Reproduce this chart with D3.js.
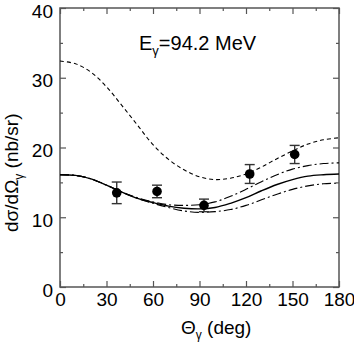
<!DOCTYPE html>
<html>
<head>
<meta charset="utf-8">
<title>Cross section</title>
<style>
  body { margin: 0; background: #fff; }
  text { font-family: "Liberation Sans", Arial, sans-serif; }
</style>
<script src="https://d3js.org/d3.v7.min.js"></script>
</head>
<body>
<script>
// theory curves, sampled every 10 deg
var angles = [0, 10, 20, 30, 40, 50, 60, 70, 80, 90, 100, 110, 120, 130, 140, 150, 160, 170, 180];
var dashedVals = [32.4, 32.0, 30.8, 28.7, 26.0, 23.2, 20.4, 18.3, 16.8, 15.8, 15.4, 15.6, 16.2, 17.2, 18.4, 19.5, 20.5, 21.1, 21.4];
var solidVals  = [16.1, 16.0, 15.5, 14.6, 13.6, 12.7, 12.1, 11.6, 11.3, 11.2, 11.4, 12.0, 12.8, 13.8, 14.7, 15.4, 15.9, 16.1, 16.2];
var upperVals  = [16.1, 16.0, 15.5, 14.6, 13.6, 12.8, 12.2, 11.8, 11.7, 11.8, 12.2, 13.0, 14.0, 15.1, 16.1, 16.9, 17.4, 17.7, 17.8];
var lowerVals  = [16.1, 16.0, 15.5, 14.6, 13.6, 12.7, 12.0, 11.4, 10.9, 10.7, 10.8, 11.1, 11.7, 12.5, 13.3, 14.0, 14.5, 14.8, 14.9];

// measured points
var pointAngles = [36.6, 62.6, 92.9, 122.4, 151.4];
var pointVals   = [13.5, 13.7, 11.7, 16.2, 19.0];
var pointErrs   = [1.55, 0.9, 0.9, 1.35, 1.3];

var xTicks = [0, 30, 60, 90, 120, 150, 180];
var xMinor = [15, 45, 75, 105, 135, 165];
var yTicks = [0, 10, 20, 30, 40];
var yMinor = [5, 15, 25, 35];

var margin = {top: 8, right: 15, bottom: 63, left: 60},
    width = 279,
    height = 279;

var x = d3.scaleLinear().domain([0, 180]).range([0, width]);
var y = d3.scaleLinear().domain([0, 40]).range([height, 0]);

var svg = d3.select("body").append("svg")
    .attr("width", 354)
    .attr("height", 350)
    .append("g")
    .attr("transform", "translate(" + margin.left + "," + margin.top + ")");

var axisColor = "#555";

function styleAxis(g) {
    g.select(".domain").remove();
    g.selectAll(".tick line").attr("stroke", axisColor).attr("stroke-width", 1.2);
    g.selectAll(".tick text").attr("fill", "#000").style("font-size", "19px");
}

// bottom
svg.append("g")
    .attr("transform", "translate(0," + height + ")")
    .call(d3.axisBottom(x).tickValues(xTicks).tickSizeInner(-6).tickSizeOuter(0).tickPadding(6).tickFormat(d3.format("d")))
    .call(styleAxis);
svg.append("g")
    .attr("transform", "translate(0," + height + ")")
    .call(d3.axisBottom(x).tickValues(xMinor).tickSize(-3).tickFormat(""))
    .call(styleAxis);
// top
svg.append("g")
    .call(d3.axisTop(x).tickValues(xTicks).tickSize(-6).tickFormat(""))
    .call(styleAxis);
svg.append("g")
    .call(d3.axisTop(x).tickValues(xMinor).tickSize(-3).tickFormat(""))
    .call(styleAxis);
// left
svg.append("g")
    .call(d3.axisLeft(y).tickValues(yTicks).tickSizeInner(-6).tickSizeOuter(0).tickPadding(7).tickFormat(d3.format("d")))
    .call(styleAxis)
    .selectAll(".tick text").attr("dy", "0.48em");
svg.append("g")
    .call(d3.axisLeft(y).tickValues(yMinor).tickSize(-3).tickFormat(""))
    .call(styleAxis);
// right
svg.append("g")
    .attr("transform", "translate(" + width + ",0)")
    .call(d3.axisRight(y).tickValues(yTicks).tickSize(-6).tickFormat(""))
    .call(styleAxis);
svg.append("g")
    .attr("transform", "translate(" + width + ",0)")
    .call(d3.axisRight(y).tickValues(yMinor).tickSize(-3).tickFormat(""))
    .call(styleAxis);

svg.append("rect")
    .attr("width", width)
    .attr("height", height)
    .attr("fill", "none")
    .attr("stroke", axisColor)
    .attr("stroke-width", 1.5);

var line = d3.line()
    .x(function(d) { return x(d[0]); })
    .y(function(d) { return y(d[1]); })
    .curve(d3.curveCatmullRom);

var curves = [
    {vals: dashedVals, dash: "4,3", w: 1.1},
    {vals: upperVals, dash: "9,3,2,3", w: 1.1},
    {vals: lowerVals, dash: "9,3,2,3", w: 1.1},
    {vals: solidVals, dash: null, w: 1.4}
];

curves.forEach(function(c) {
    svg.append("path")
        .datum(d3.zip(angles, c.vals))
        .attr("d", line)
        .attr("fill", "none")
        .attr("stroke", "#000")
        .attr("stroke-width", c.w)
        .attr("stroke-dasharray", c.dash);
});

// error bars
var pts = pointAngles.map(function(a, i) {
    return {a: a, v: pointVals[i], e: pointErrs[i]};
});
var eb = svg.selectAll(".err").data(pts).enter().append("g").attr("class", "err");
eb.append("line")
    .attr("x1", function(d) { return x(d.a); })
    .attr("x2", function(d) { return x(d.a); })
    .attr("y1", function(d) { return y(d.v - d.e); })
    .attr("y2", function(d) { return y(d.v + d.e); });
eb.append("line")
    .attr("x1", function(d) { return x(d.a) - 5; })
    .attr("x2", function(d) { return x(d.a) + 5; })
    .attr("y1", function(d) { return y(d.v + d.e); })
    .attr("y2", function(d) { return y(d.v + d.e); });
eb.append("line")
    .attr("x1", function(d) { return x(d.a) - 5; })
    .attr("x2", function(d) { return x(d.a) + 5; })
    .attr("y1", function(d) { return y(d.v - d.e); })
    .attr("y2", function(d) { return y(d.v - d.e); });
eb.selectAll("line").attr("stroke", "#333").attr("stroke-width", 1.4);

svg.selectAll(".pt").data(pts).enter().append("circle")
    .attr("class", "pt")
    .attr("cx", function(d) { return x(d.a); })
    .attr("cy", function(d) { return y(d.v); })
    .attr("r", 4.8)
    .attr("fill", "#000");

// energy label
var lab = svg.append("text")
    .attr("x", 79)
    .attr("y", 42)
    .style("font-size", "20px");
lab.append("tspan").text("E");
lab.append("tspan").attr("dy", 5).style("font-size", "13px").text("γ");
lab.append("tspan").attr("dy", -5).text("=94.2 MeV");

// x title
var xt = svg.append("text")
    .attr("x", 121)
    .attr("y", 326)
    .style("font-size", "19px");
xt.append("tspan").text("Θ");
xt.append("tspan").attr("dy", 5).style("font-size", "12px").text("γ");
xt.append("tspan").attr("dy", -5).text(" (deg)");

// y title
var yt = svg.append("text")
    .attr("transform", "translate(-42," + 224 + ") rotate(-90)")
    .style("font-size", "19px");
yt.append("tspan").text("dσ/dΩ");
yt.append("tspan").attr("dy", 5).style("font-size", "12px").text("γ");
yt.append("tspan").attr("dy", -5).text(" (nb/sr)");
</script>
</body>
</html>
